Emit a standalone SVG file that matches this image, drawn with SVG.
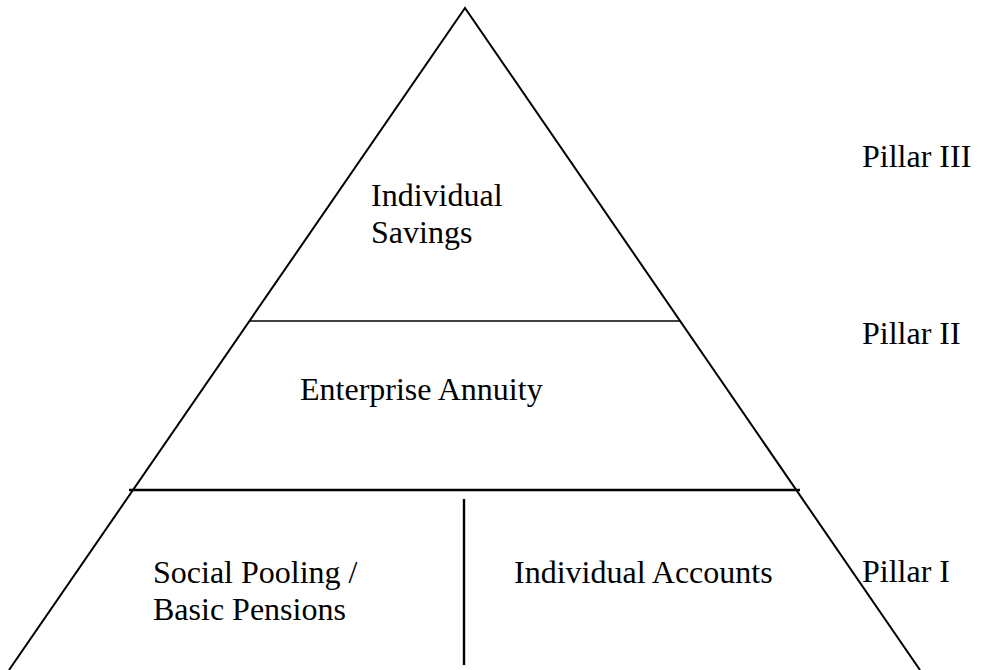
<svg xmlns="http://www.w3.org/2000/svg" width="984" height="670" viewBox="0 0 984 670">
  <style>
    .ln { stroke: #000; fill: none; stroke-linecap: butt; }
    .tx { font-family: Liberation Serif, serif; font-size: 32px; fill: #000; }
  </style>
  <rect x="0" y="0" width="984" height="670" fill="#fff"/>

  <!-- pyramid outline and tier dividers -->
  <g id="connectors">
    <polyline class="ln" stroke-width="2" points="9,670 465,8 920,670"/>
    <line class="ln" stroke-width="1.6" x1="250" y1="321" x2="680" y2="321"/>
    <line class="ln" stroke-width="2.4" x1="129" y1="490" x2="800" y2="490"/>
    <line class="ln" stroke-width="2.4" x1="464" y1="499" x2="464" y2="665"/>
  </g>

  <g id="tier3">
    <text class="tx" x="371" y="206">Individual</text>
    <text class="tx" x="371" y="243">Savings</text>
  </g>
  <g id="tier2">
    <text class="tx" x="300" y="400">Enterprise Annuity</text>
  </g>
  <g id="tier1-pooling">
    <text class="tx" x="153" y="583">Social Pooling /</text>
    <text class="tx" x="153" y="620">Basic Pensions</text>
  </g>
  <g id="tier1-accounts">
    <text class="tx" x="514" y="583">Individual Accounts</text>
  </g>

  <g id="labels">
    <text class="tx" x="862" y="167">Pillar III</text>
    <text class="tx" x="862" y="344">Pillar II</text>
    <text class="tx" x="862" y="582">Pillar I</text>
  </g>
</svg>
